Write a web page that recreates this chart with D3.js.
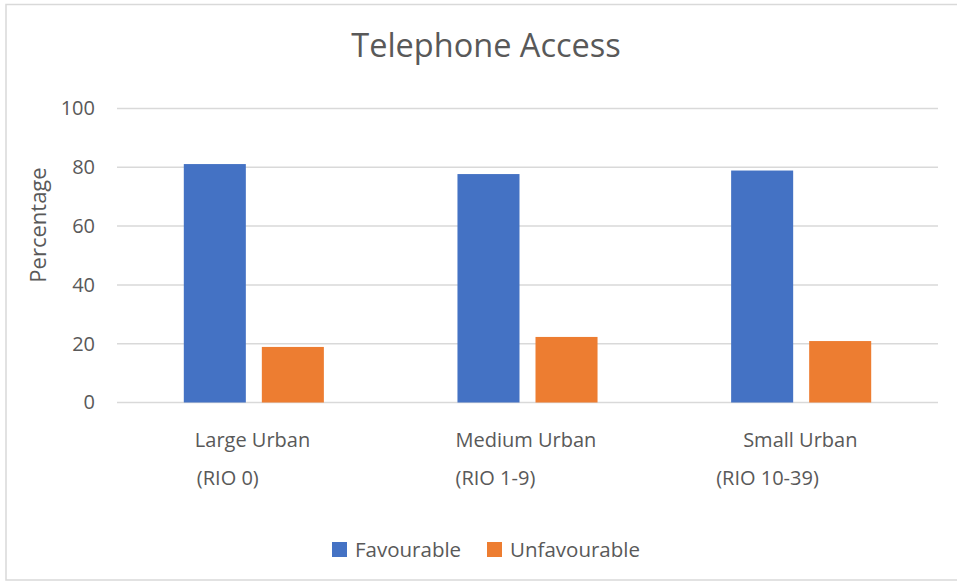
<!DOCTYPE html>
<html>
<head>
<meta charset="utf-8">
<script src="https://cdn.jsdelivr.net/npm/d3@7"></script>
<style>
  body { margin: 0; background: #fff; }
  text { font-family: "Open Sans", sans-serif; fill: #595959; }
</style>
</head>
<body>
<div class="canvas"></div>
<script>
// Data

const categories = ["Large Urban", "Medium Urban", "Small Urban"];
const subLabels = ["(RIO 0)", "(RIO 1-9)", "(RIO 10-39)"];
const seriesNames = ["Favourable", "Unfavourable"];
const favourable = [81.1, 77.7, 78.9];
const unfavourable = [18.9, 22.3, 20.9];
const yTicks = [0, 20, 40, 60, 80, 100];

const colors = ["#4472C4", "#ED7D31"];

// label offsets (start of text, relative to band centre) - the original labels are padded oddly
const line1Dx = [-59, -72, -58];
const line2Dx = [-57, -72, -85];

// Set dimensions

const W = 957, H = 581;
const plot = { left: 117, right: 938, top: 108.5, bottom: 402.5 };

const svg = d3.select(".canvas")
    .append("svg")
    .attr("width", W)
    .attr("height", H);

// chart border
svg.append("rect")
    .attr("x", 6)
    .attr("y", 4.5)
    .attr("width", 960)
    .attr("height", 575.5)
    .attr("fill", "none")
    .attr("stroke", "#d9d9d9")
    .attr("stroke-width", 1.5);

// Scales

const x0 = d3.scaleBand()
    .domain(categories)
    .range([plot.left, plot.right])
    .padding(0);

const groupPad = 66.8;
const x1 = d3.scaleBand()
    .domain(seriesNames)
    .range([groupPad, x0.bandwidth() - groupPad])
    .paddingInner(0.205)
    .paddingOuter(0);

const y = d3.scaleLinear()
    .domain([0, 100])
    .range([plot.bottom, plot.top]);

// Horizontal grid lines

svg.selectAll(".yGrid")
    .data(yTicks)
    .join("line")
    .attr("class", "yGrid")
    .attr("x1", plot.left)
    .attr("x2", plot.right)
    .attr("y1", d => y(d))
    .attr("y2", d => y(d))
    .attr("stroke", "#d9d9d9")
    .attr("stroke-width", 1.5);

// y-axis labels

svg.append("g")
    .attr("transform", `translate(${plot.left},0)`)
    .call(d3.axisLeft(y).tickValues(yTicks).tickSize(0).tickPadding(22))
    .call(g => g.select(".domain").remove())
    .selectAll(".tick text")
    .style("font-size", "20px")
    .style("font-family", "'Open Sans', sans-serif")
    .attr("fill", "#595959");

// Bars

const rows = categories.map((c, i) => ({
    cat: c,
    values: [
        { key: seriesNames[0], value: favourable[i] },
        { key: seriesNames[1], value: unfavourable[i] }
    ]
}));

const groups = svg.selectAll(".group")
    .data(rows)
    .join("g")
    .attr("class", "group")
    .attr("transform", d => `translate(${x0(d.cat)},0)`);

groups.selectAll("rect")
    .data(d => d.values)
    .join("rect")
    .attr("x", d => x1(d.key))
    .attr("width", x1.bandwidth())
    .attr("y", d => y(d.value))
    .attr("height", d => y(0) - y(d.value))
    .attr("fill", (d, i) => colors[i]);

// Category labels (two lines)

categories.forEach((c, i) => {
    const cx = x0(c) + x0.bandwidth() / 2;
    svg.append("text")
        .attr("x", cx + line1Dx[i])
        .attr("y", 447)
        .style("font-size", "20px")
        .text(c);
    svg.append("text")
        .attr("x", cx + line2Dx[i])
        .attr("y", 485)
        .style("font-size", "20px")
        .text(subLabels[i]);
});

// Title

svg.append("text")
    .attr("x", 486)
    .attr("y", 57)
    .attr("text-anchor", "middle")
    .style("font-size", "32.5px")
    .text("Telephone Access");

// y-axis title

svg.append("text")
    .attr("transform", "rotate(-90)")
    .attr("x", -225)
    .attr("y", 46)
    .attr("text-anchor", "middle")
    .style("font-size", "22px")
    .text("Percentage");

// Legend

const legendX = [332, 487];
const legend = svg.selectAll(".legend")
    .data(seriesNames)
    .join("g")
    .attr("class", "legend")
    .attr("transform", (d, i) => `translate(${legendX[i]},542)`);

legend.append("rect")
    .attr("width", 15)
    .attr("height", 15)
    .attr("fill", (d, i) => colors[i]);

legend.append("text")
    .attr("x", 23)
    .attr("y", 15)
    .style("font-size", "20.5px")
    .text(d => d);
</script>
</body>
</html>
